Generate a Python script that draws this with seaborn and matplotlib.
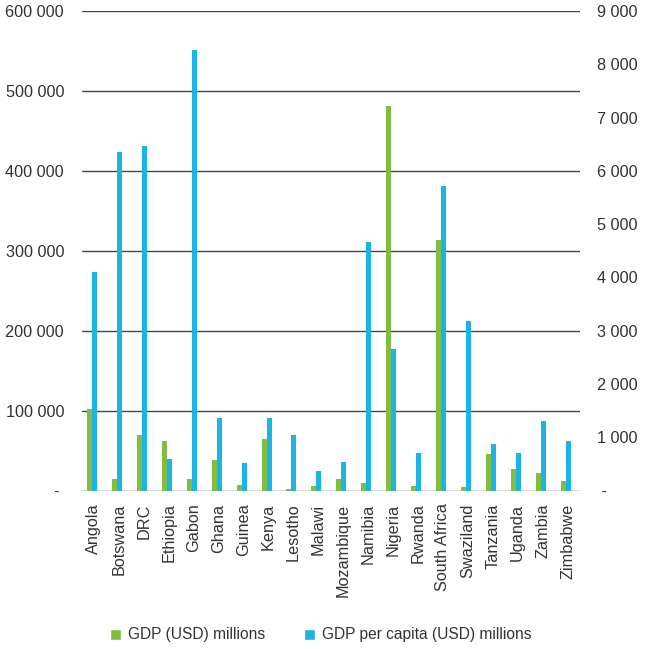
import matplotlib
matplotlib.use("Agg")
import matplotlib.pyplot as plt
import pandas as pd
import seaborn as sns
from matplotlib.patches import Patch

# --- data -------------------------------------------------------------
countries = ["Angola", "Botswana", "DRC", "Ethiopia", "Gabon", "Ghana", "Guinea",
             "Kenya", "Lesotho", "Malawi", "Mozambique", "Namibia", "Nigeria",
             "Rwanda", "South Africa", "Swaziland", "Tanzania", "Uganda",
             "Zambia", "Zimbabwe"]
gdp_musd = [102000, 14000, 69000, 61400, 14000, 37600, 6300, 63900, 2000, 6000,
            14000, 10000, 481000, 6000, 313300, 3800, 45100, 26300, 21300, 12500]
gdp_per_capita = [4100, 6350, 6470, 600, 8270, 1370, 510, 1370, 1050, 360,
                  530, 4660, 2650, 700, 5720, 3180, 870, 700, 1300, 920]

left_ticks = [0, 100000, 200000, 300000, 400000, 500000, 600000]
left_tick_labels = ["- ", "100 000", "200 000", "300 000", "400 000", "500 000", "600 000"]
right_ticks = [0, 1000, 2000, 3000, 4000, 5000, 6000, 7000, 8000, 9000]
right_tick_labels = [" -", "1 000", "2 000", "3 000", "4 000", "5 000", "6 000",
                     "7 000", "8 000", "9 000"]

series_labels = ["GDP (USD) millions", "GDP per capita (USD) millions"]

# --- style --------------------------------------------------------------
GREEN = "#80bd41"
BLUE = "#1bb5e3"
TEXT = "#333333"
GRID = "#454545"
FS = 11.7

sns.set_style("white")
plt.rcParams["font.family"] = ["Liberation Sans", "DejaVu Sans"]

df = pd.DataFrame({"country": countries,
                   "gdp": gdp_musd,
                   "per_capita": gdp_per_capita})

fig = plt.figure(figsize=(6.48, 6.49), dpi=100)
W, H = 648, 649
ax = fig.add_axes([81.5 / W, 1 - 490.5 / H, (580 - 81.5) / W, (490.5 - 11) / H])
ax2 = ax.twinx()

BAR_W = 0.2
sns.barplot(data=df, x="country", y="gdp", ax=ax, color=GREEN,
            width=BAR_W, saturation=1, errorbar=None)
sns.barplot(data=df, x="country", y="per_capita", ax=ax2, color=BLUE,
            width=BAR_W, saturation=1, errorbar=None)

# place the two series side by side inside each category
for p in ax.patches:
    p.set_x(p.get_x() - 0.176)
    p.set_linewidth(0)
for p in ax2.patches:
    p.set_x(p.get_x() + 0.024)
    p.set_linewidth(0)

ax.set_xlim(-0.5, len(countries) - 0.5)
ax.set_ylim(0, 600000)
ax2.set_ylim(0, 9000)

ax.set_yticks(left_ticks)
ax.set_yticklabels(left_tick_labels)
ax2.set_yticks(right_ticks)
ax2.set_yticklabels(right_tick_labels)

ax.set_xticks(range(len(countries)))
ax.set_xticklabels(countries, rotation=90, ha="center", va="top")

for a in (ax, ax2):
    a.set_xlabel("")
    a.set_ylabel("")
    for s in a.spines.values():
        s.set_visible(False)
    a.tick_params(length=0, labelsize=FS, labelcolor=TEXT)

ax.tick_params(axis="y", pad=12.6)
ax2.tick_params(axis="y", pad=12.2)
ax.tick_params(axis="x", pad=9.4)

ax.set_axisbelow(True)
ax.yaxis.grid(True, color=GRID, linewidth=1.0)
ax.xaxis.grid(False)
ax2.grid(False)

handles = [Patch(facecolor=GREEN, label=series_labels[0]),
           Patch(facecolor=BLUE, label=series_labels[1])]
fig.legend(handles=handles, loc="center", bbox_to_anchor=(321 / W, 1 - 635 / H),
           ncol=2, frameon=False, fontsize=11.2, labelcolor=TEXT,
           handlelength=0.7, handleheight=0.7, handletextpad=0.45,
           columnspacing=2.5, borderpad=0, borderaxespad=0)

fig.savefig("out.png", dpi=100)
